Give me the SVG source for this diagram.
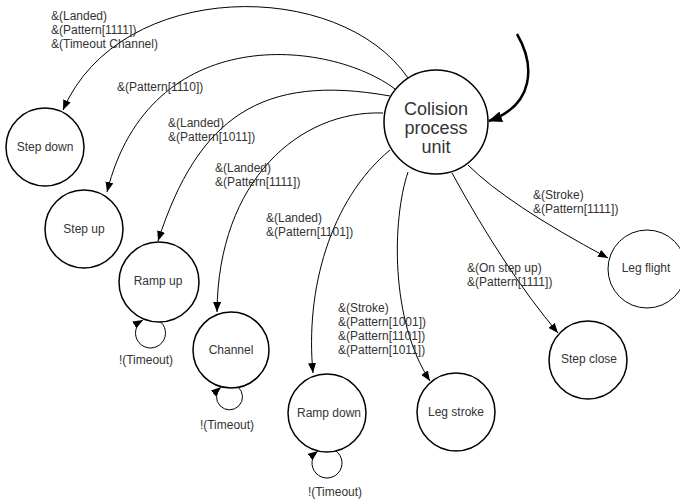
<svg xmlns="http://www.w3.org/2000/svg" width="680" height="501" viewBox="0 0 680 501">
<defs>
<style>
.node{fill:#fff;stroke:#000;stroke-width:1.5}
.thin{stroke-width:1}
.lbl{font-family:"Liberation Sans",Arial,sans-serif;font-size:12px;fill:#333;text-anchor:middle}
.big{font-size:18px}
.el{font-family:"Liberation Sans",Arial,sans-serif;font-size:12px;fill:#333}
.edge{fill:none;stroke:#000;stroke-width:1;marker-end:url(#arr)}
.init{fill:none;stroke:#000;stroke-width:2.5;marker-end:url(#arrBig)}
</style>
<marker id="arr" markerUnits="userSpaceOnUse" markerWidth="10" markerHeight="8" refX="10" refY="4" orient="auto"><path d="M0,0 L10,4 L0,8 z" fill="#000"/></marker>
<marker id="arrBig" markerUnits="userSpaceOnUse" markerWidth="14" markerHeight="11" refX="13" refY="5.5" orient="auto"><path d="M0,0 L14,5.5 L0,11 z" fill="#000"/></marker>
</defs>
<g id="connectors">
<path class="init" d="M517,34 C535,65 535,105 489,121"/>
<path class="edge" d="M408,78 C340,-22 120,-22 63,110"/>
<path class="edge" d="M395,89 C330,40 150,20 107,192"/>
<path class="edge" d="M390,96 C262,73 198,117 158,241"/>
<path class="edge" d="M383,113 C300,110 218,180 217,312"/>
<path class="edge" d="M390,150 C330,200 305,290 313,373"/>
<path class="edge" d="M408,172 C392,220 390,320 430,381"/>
<path class="edge" d="M452,173 Q505,270 558,333"/>
<path class="edge" d="M468,165 Q507,204 608,258"/>
<path class="edge" d="M158,320 A15,15 0 1 1 143,320"/>
<path class="edge" d="M238,387 A13,13 0 1 1 221,387"/>
<path class="edge" d="M336,451 A15,15 0 1 1 318,451"/>
</g>
<g id="edge-labels">
<text class="el" x="51" y="20">&amp;(Landed)</text>
<text class="el" x="51" y="34">&amp;(Pattern[1111])</text>
<text class="el" x="51" y="48">&amp;(Timeout Channel)</text>
<text class="el" x="117" y="91">&amp;(Pattern[1110])</text>
<text class="el" x="168" y="127">&amp;(Landed)</text>
<text class="el" x="168" y="141">&amp;(Pattern[1011])</text>
<text class="el" x="215" y="172">&amp;(Landed)</text>
<text class="el" x="215" y="186">&amp;(Pattern[1111])</text>
<text class="el" x="266" y="222">&amp;(Landed)</text>
<text class="el" x="266" y="236">&amp;(Pattern[1101])</text>
<text class="el" x="338" y="312">&amp;(Stroke)</text>
<text class="el" x="338" y="326">&amp;(Pattern[1001])</text>
<text class="el" x="338" y="340">&amp;(Pattern[1101])</text>
<text class="el" x="338" y="354">&amp;(Pattern[1011])</text>
<text class="el" x="533" y="199">&amp;(Stroke)</text>
<text class="el" x="533" y="213">&amp;(Pattern[1111])</text>
<text class="el" x="467" y="272">&amp;(On step up)</text>
<text class="el" x="467" y="286">&amp;(Pattern[1111])</text>
<text class="lbl" x="146" y="364">!(Timeout)</text>
<text class="lbl" x="227" y="429">!(Timeout)</text>
<text class="lbl" x="335" y="496">!(Timeout)</text>
</g>
<g id="colision">
<circle class="node" cx="436" cy="122" r="52"/>
<text class="lbl big" x="436" y="115">Colision</text>
<text class="lbl big" x="436" y="134">process</text>
<text class="lbl big" x="436" y="153">unit</text>
</g>
<g id="step-down">
<circle class="node" cx="45" cy="147" r="39"/>
<text class="lbl" x="45" y="151">Step down</text>
</g>
<g id="step-up">
<circle class="node" cx="84" cy="229" r="39"/>
<text class="lbl" x="84" y="233">Step up</text>
</g>
<g id="ramp-up">
<circle class="node" cx="159" cy="282" r="40"/>
<text class="lbl" x="158" y="285">Ramp up</text>
</g>
<g id="channel">
<circle class="node" cx="231" cy="350" r="38"/>
<text class="lbl" x="231" y="354">Channel</text>
</g>
<g id="ramp-down">
<circle class="node" cx="327" cy="413" r="39"/>
<text class="lbl" x="329" y="417">Ramp down</text>
</g>
<g id="leg-stroke">
<circle class="node" cx="456" cy="412" r="39"/>
<text class="lbl" x="456" y="416">Leg stroke</text>
</g>
<g id="step-close">
<circle class="node" cx="588" cy="360" r="39"/>
<text class="lbl" x="589" y="363">Step close</text>
</g>
<g id="leg-flight">
<circle class="node thin" cx="647" cy="269" r="39"/>
<text class="lbl" x="646" y="272">Leg flight</text>
</g>
</svg>
